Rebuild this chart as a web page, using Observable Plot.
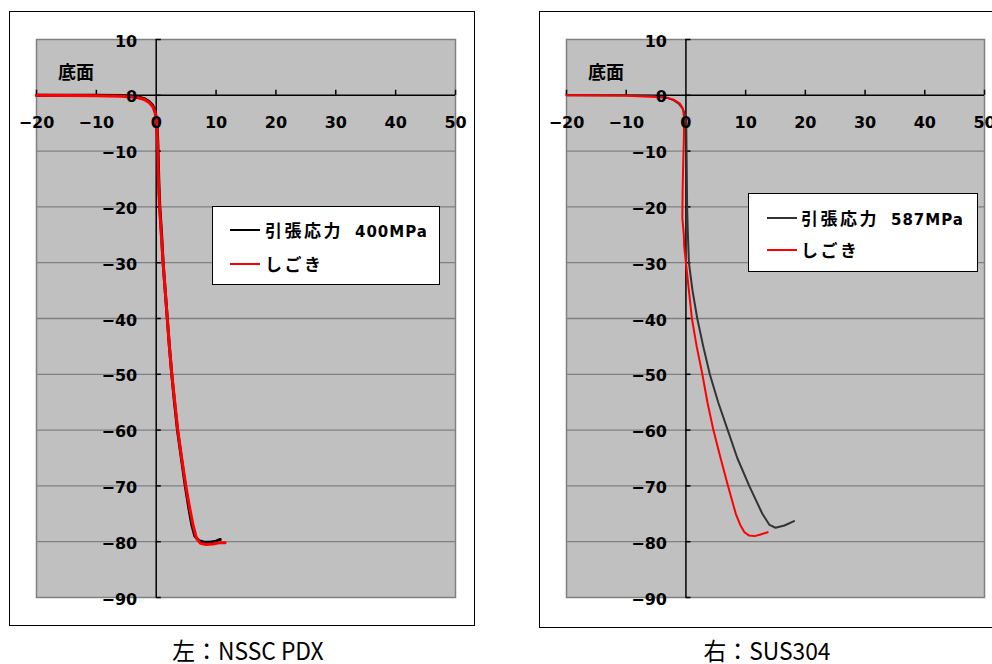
<!DOCTYPE html>
<html>
<head>
<meta charset="utf-8">
<script src="https://cdn.jsdelivr.net/npm/d3@7"></script>
<script src="https://cdn.jsdelivr.net/npm/@observablehq/plot@0.6"></script>
<style>
  html, body { margin: 0; padding: 0; background: #fff; }
  body { width: 992px; height: 664px; overflow: hidden; position: relative; font-family: "DejaVu Sans", "Noto Sans CJK JP", sans-serif; }
  .panel { position: absolute; border: 1px solid #000; background: #fff; box-sizing: border-box; }
  .panel svg { position: absolute; left: 0; top: 0; }
  .legend { position: absolute; background: #fff; border: 1px solid #000; box-sizing: border-box; font-weight: bold; font-size: 17px; font-family: "DejaVu Sans", "Noto Sans CJK JP", sans-serif; }
  .legend .row { position: absolute; left: 0; height: 22px; line-height: 22px; white-space: nowrap; }
  .legend .cjk { letter-spacing: 2.5px; font-family: "Noto Sans CJK JP", sans-serif; }
  .legend .lat { letter-spacing: 1px; font-size: 15px; }
  .legend .swatch { position: absolute; height: 0; }
  .caption { position: absolute; font-family: "Noto Sans CJK JP", sans-serif; font-size: 24px; line-height: 24px; font-weight: 400; text-align: center; white-space: nowrap; transform: scaleX(0.95); }
</style>
</head>
<body>
<script>
// ---- data ----
const xTicks = [-20, -10, 0, 10, 20, 30, 40, 50];
const yTicks = [10, 0, -10, -20, -30, -40, -50, -60, -70, -80, -90];
const gridY = [-10, -20, -30, -40, -50, -60, -70, -80];
const annotations = [{label: "底面", x: -13.4, y: 3.9}];

// 左：NSSC PDX
const pdxTension = [[-20,0],[-10,0],[-6,-0.05],[-4,-0.15],[-3,-0.3],[-2,-0.6],[-1.2,-1.1],[-0.6,-1.8],[-0.2,-2.8],[0.1,-4.5],[0.25,-8],[0.35,-12],[0.45,-16],[0.6,-20],[0.9,-25],[1.15,-30],[1.5,-35],[1.85,-40],[2.2,-45],[2.6,-50],[3.05,-55],[3.55,-60],[4.2,-65],[4.85,-70],[5.45,-74],[5.95,-77],[6.45,-79],[7.1,-79.8],[8,-80.1],[9,-80.1],[10,-79.9],[10.7,-79.6]];
const pdxIroning = [[-20,0],[-10,-0.1],[-6,-0.15],[-4,-0.3],[-3,-0.45],[-2,-0.75],[-1.2,-1.3],[-0.6,-2],[-0.2,-3],[0.1,-5],[0.2,-8],[0.3,-12],[0.4,-16],[0.55,-20],[0.85,-25],[1.15,-30],[1.5,-35],[1.85,-40],[2.2,-45],[2.6,-50],[3.1,-55],[3.6,-60],[4.25,-65],[4.95,-70],[5.6,-74],[6.15,-77],[6.7,-79.3],[7.4,-80.3],[8.3,-80.5],[9.5,-80.4],[10.5,-80.2],[11.5,-80.2]];

// 右：SUS304
const susTension = [[-20,0],[-10,0],[-6,-0.1],[-4,-0.3],[-3,-0.5],[-2,-0.9],[-1.2,-1.5],[-0.6,-2.3],[-0.2,-3.3],[0.05,-5],[0.1,-10],[0.15,-15],[0.2,-20],[0.3,-24],[0.5,-30],[1.1,-35],[1.9,-40],[2.9,-45],[4.0,-50],[5.4,-55],[7.0,-60],[8.6,-65],[10.6,-70],[12.8,-75],[14.0,-77],[15.0,-77.5],[16.5,-77.1],[18.1,-76.3]];
const susIroning = [[-20,0],[-10,-0.1],[-5,-0.3],[-3,-0.5],[-2,-0.8],[-1,-1.5],[-0.5,-2.4],[-0.3,-4],[-0.35,-8],[-0.45,-12],[-0.55,-17],[-0.6,-22],[-0.35,-25],[-0.3,-27],[0,-30],[0.5,-35],[1.0,-40],[1.8,-45],[2.75,-50],[3.6,-55],[4.6,-60],[5.8,-65],[7.05,-70],[8.35,-75],[9.1,-77],[9.8,-78.3],[10.6,-78.9],[11.5,-79],[12.5,-78.7],[13.7,-78.3]];

const panels = [
  {caption: "左：NSSC PDX", tension: pdxTension, ironing: pdxIroning, tensionLabel: ["引張応力", "400MPa"], ironingLabel: ["しごき", ""],
   box: {left: 9, top: 11, width: 466, height: 615}, m: {left: 26, right: 19, top: 27, bottom: 28},
   tensionColor: "#000", lw: 3, lgw: 2.5, legend: {left: 202, top: 194, width: 228, height: 79, y1: 23, y2: 57, sx: 17, sw: 30, tx: 52},
   cap: {cx: 248, top: 638}},
  {caption: "右：SUS304", tension: susTension, ironing: susIroning, tensionLabel: ["引張応力", "587MPa"], ironingLabel: ["しごき", ""],
   box: {left: 539, top: 11, width: 470, height: 617}, m: {left: 26, right: 24, top: 27, bottom: 30},
   tensionColor: "#333", lw: 2, lgw: 2, legend: {left: 208, top: 181, width: 230, height: 79, y1: 24, y2: 56, sx: 18, sw: 30, tx: 52},
   cap: {cx: 767, top: 638}}
];

const fmt = d => d < 0 ? "\u2212" + (-d) : String(d);
const tickFont = "'DejaVu Sans', sans-serif";

for (const p of panels) {
  const div = document.createElement("div");
  div.className = "panel";
  Object.assign(div.style, {left: p.box.left + "px", top: p.box.top + "px", width: p.box.width + "px", height: p.box.height + "px"});
  const W = p.box.width - 2, H = p.box.height - 2;
  const chart = Plot.plot({
    width: W, height: H,
    marginLeft: p.m.left, marginRight: p.m.right, marginTop: p.m.top, marginBottom: p.m.bottom,
    x: {domain: [-20, 50], axis: null},
    y: {domain: [-90, 10], axis: null},
    style: {fontFamily: tickFont, fontSize: "16px", fontWeight: "bold", color: "#000", background: "transparent", overflow: "visible"},
    marks: [
      Plot.frame({fill: "#c0c0c0", stroke: "#808080", strokeWidth: 1.5}),
      Plot.ruleY(gridY, {stroke: "#808080", strokeWidth: 1.3}),
      Plot.ruleY([0], {stroke: "#000", strokeWidth: 1.5}),
      Plot.ruleX([0], {stroke: "#000", strokeWidth: 1.5}),
      Plot.ruleX(xTicks.filter(d => d !== 0), {x: d => d, y1: 0, y2: 0.9, stroke: "#000", strokeWidth: 1.5}),
      Plot.ruleY(yTicks, {y: d => d, x1: 0, x2: 0.85, stroke: "#000", strokeWidth: 1.5}),
      Plot.line(p.tension, {x: d => d[0], y: d => d[1], stroke: p.tensionColor, strokeWidth: p.lw, curve: "linear"}),
      Plot.line(p.ironing, {x: d => d[0], y: d => d[1], stroke: "#ff0000", strokeWidth: p.lw, curve: "linear"}),
      Plot.text(xTicks, {x: d => d, y: 0, dy: 28, text: fmt, fill: "#000", fontWeight: "bold", fontSize: 16, fontFamily: tickFont}),
      Plot.text(yTicks, {x: 0, y: d => d, dx: -19, dy: 2, textAnchor: "end", text: fmt, fill: "#000", fontWeight: "bold", fontSize: 16, fontFamily: tickFont}),
      Plot.text(annotations, {x: "x", y: "y", text: "label", fill: "#000", fontWeight: "bold", fontSize: 18, fontFamily: "'Noto Sans CJK JP', sans-serif"})
    ]
  });
  div.appendChild(chart);

  const lg = document.createElement("div");
  lg.className = "legend";
  Object.assign(lg.style, {left: p.legend.left + "px", top: p.legend.top + "px", width: p.legend.width + "px", height: p.legend.height + "px"});
  const entries = [
    {label: p.tensionLabel, color: p.tensionColor, y: p.legend.y1},
    {label: p.ironingLabel, color: "#ff0000", y: p.legend.y2}
  ];
  for (const e of entries) {
    const sw = document.createElement("div");
    sw.className = "swatch";
    Object.assign(sw.style, {left: p.legend.sx + "px", top: (e.y - 1) + "px", width: p.legend.sw + "px", borderTop: `${p.lgw}px solid ${e.color}`});
    lg.appendChild(sw);
    const row = document.createElement("div");
    row.className = "row";
    const a = document.createElement("span");
    a.className = "cjk";
    a.textContent = e.label[0];
    row.appendChild(a);
    if (e.label[1]) {
      const b = document.createElement("span");
      b.className = "lat";
      b.style.marginLeft = "12px";
      b.textContent = e.label[1];
      row.appendChild(b);
    }
    Object.assign(row.style, {left: p.legend.tx + "px", top: (e.y - 11) + "px"});
    lg.appendChild(row);
  }
  div.appendChild(lg);
  document.body.appendChild(div);

  const cap = document.createElement("div");
  cap.className = "caption";
  cap.textContent = p.caption;
  Object.assign(cap.style, {left: (p.cap.cx - 150) + "px", width: "300px", top: p.cap.top + "px"});
  document.body.appendChild(cap);
}
</script>
</body>
</html>
